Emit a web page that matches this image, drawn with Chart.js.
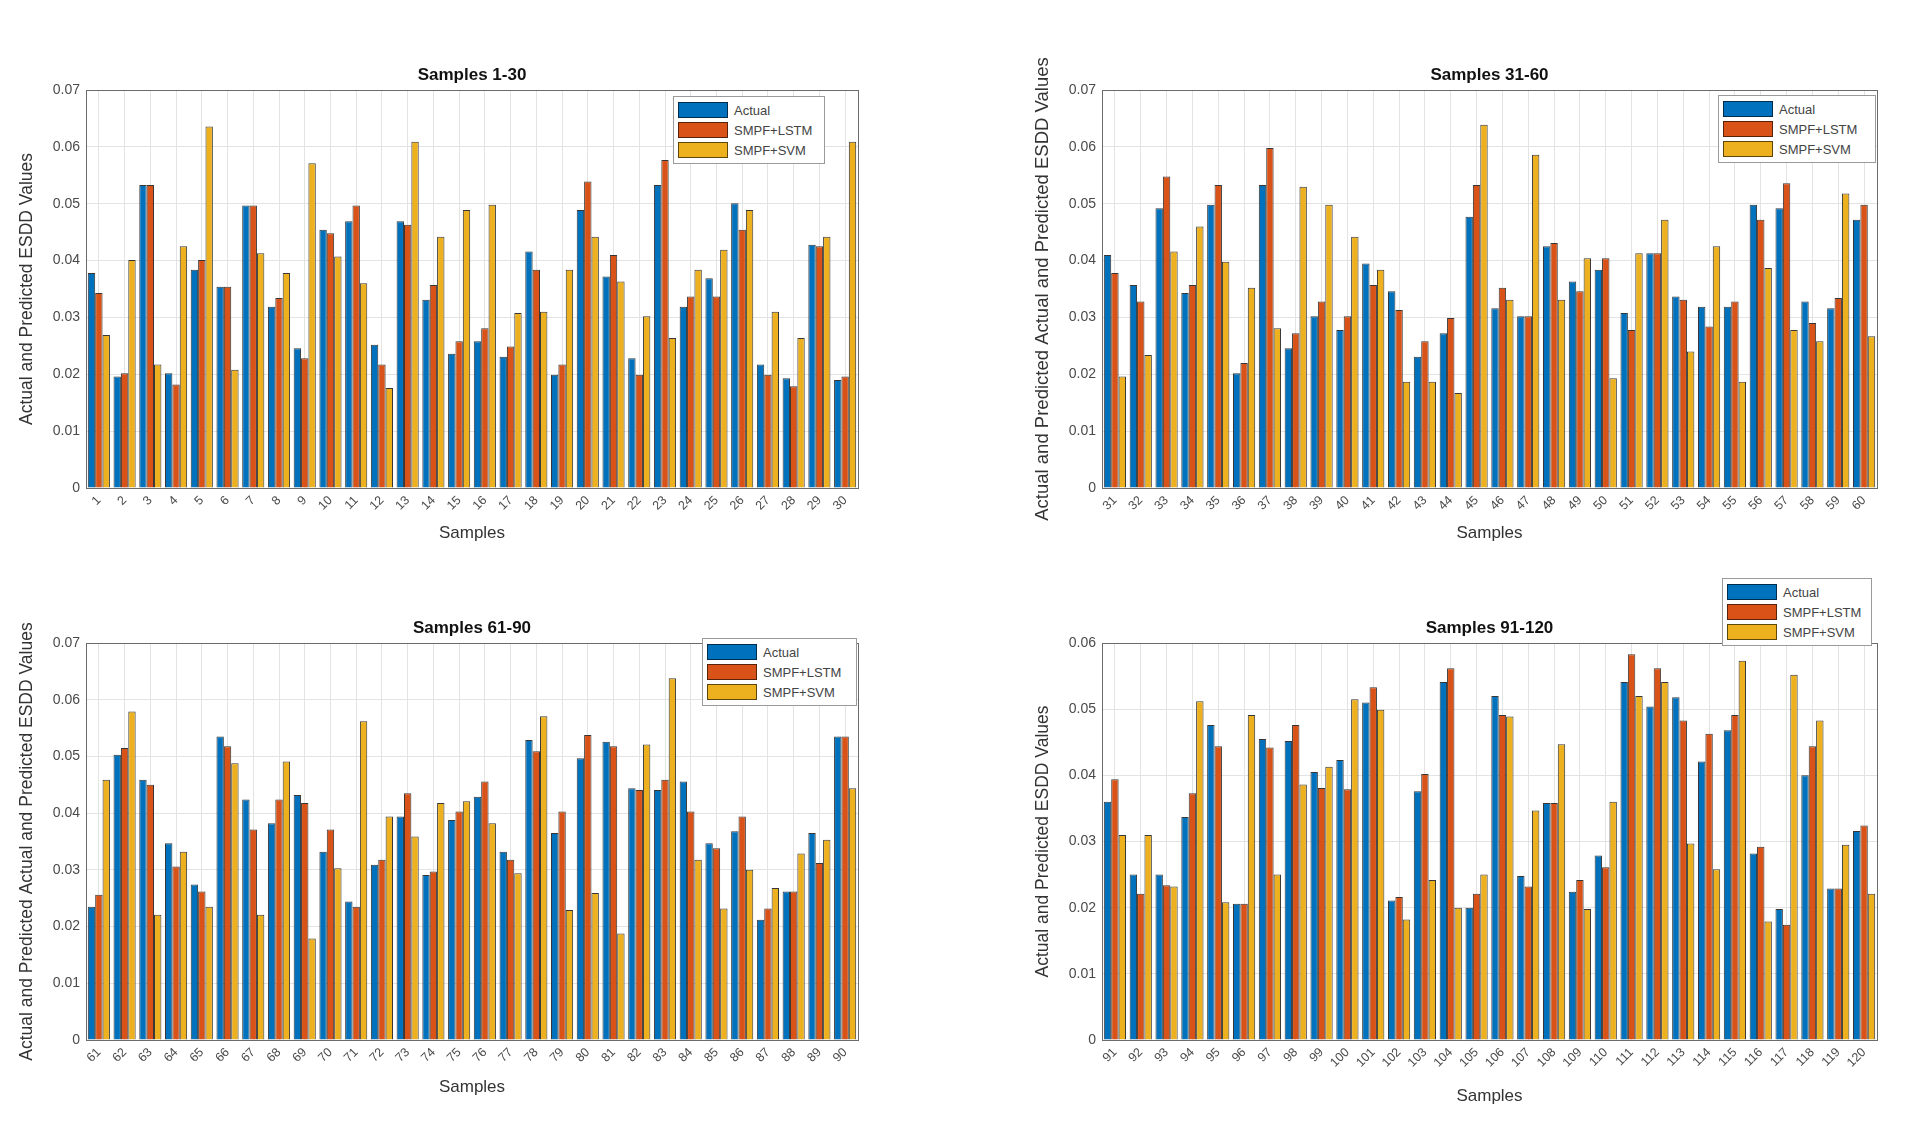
<!DOCTYPE html>
<html>
<head>
<meta charset="utf-8">
<script src="https://cdn.jsdelivr.net/npm/chart.js@4.4.1/dist/chart.umd.min.js"></script>
<style>
  body { margin: 0; background: #fff; font-family: Arial, 'Liberation Sans', sans-serif; }
  #page { position: relative; width: 1910px; height: 1130px; overflow: hidden; }
  canvas { position: absolute; }
  .ttl { position: absolute; font-weight: bold; font-size: 17px; color: #111; text-align: center; }
  .lg { position: absolute; background: #fff; border: 1px solid #9a9a9a; padding: 3px 4px; font-size: 13px; color: #444; }
  .lg div { display: flex; align-items: center; height: 20px; }
  .lg span.sw { display: inline-block; width: 48px; height: 14px; margin-right: 6px; border: 1px solid rgba(0,0,0,.6); }
</style>
</head>
<body>
<div id="page"></div>
<script>
/* series, samples 1..120 */
const actual = [
  0.0378, 0.0196, 0.0533, 0.0202, 0.0384, 0.0354, 0.0497, 0.0319, 0.0246, 0.0454,
  0.0469, 0.0252, 0.0469, 0.0331, 0.0236, 0.0258, 0.0231, 0.0416, 0.0199, 0.0489,
  0.0372, 0.0228, 0.0533, 0.0319, 0.0369, 0.0501, 0.0217, 0.0193, 0.0428, 0.0190,
  0.0410, 0.0357, 0.0492, 0.0343, 0.0498, 0.0202, 0.0533, 0.0246, 0.0302, 0.0278,
  0.0395, 0.0346, 0.0231, 0.0272, 0.0477, 0.0316, 0.0302, 0.0425, 0.0363, 0.0384,
  0.0308, 0.0413, 0.0337, 0.0319, 0.0319, 0.0498, 0.0492, 0.0328, 0.0316, 0.0472,
  0.0235, 0.0503, 0.0459, 0.0347, 0.0274, 0.0535, 0.0424, 0.0382, 0.0432, 0.0332,
  0.0244, 0.0309, 0.0394, 0.0291, 0.0388, 0.0429, 0.0332, 0.0529, 0.0365, 0.0497,
  0.0526, 0.0444, 0.0441, 0.0456, 0.0347, 0.0368, 0.0212, 0.0262, 0.0365, 0.0535,
  0.0360, 0.0250, 0.0250, 0.0337, 0.0476, 0.0206, 0.0455, 0.0452, 0.0405, 0.0423,
  0.0510, 0.0211, 0.0376, 0.0541, 0.0200, 0.0520, 0.0248, 0.0358, 0.0224, 0.0279,
  0.0541, 0.0504, 0.0518, 0.0421, 0.0468, 0.0282, 0.0198, 0.0400, 0.0229, 0.0316,
];
const smpfLstm = [
  0.0343, 0.0202, 0.0533, 0.0182, 0.0401, 0.0354, 0.0497, 0.0334, 0.0228, 0.0448,
  0.0497, 0.0217, 0.0463, 0.0357, 0.0258, 0.0281, 0.0249, 0.0384, 0.0217, 0.0539,
  0.0410, 0.0199, 0.0577, 0.0337, 0.0337, 0.0454, 0.0199, 0.0179, 0.0425, 0.0196,
  0.0378, 0.0328, 0.0548, 0.0357, 0.0533, 0.0220, 0.0598, 0.0272, 0.0328, 0.0302,
  0.0357, 0.0313, 0.0258, 0.0299, 0.0533, 0.0352, 0.0302, 0.0431, 0.0346, 0.0404,
  0.0278, 0.0413, 0.0331, 0.0284, 0.0328, 0.0472, 0.0536, 0.0290, 0.0334, 0.0498,
  0.0256, 0.0515, 0.0450, 0.0306, 0.0262, 0.0518, 0.0371, 0.0424, 0.0418, 0.0371,
  0.0235, 0.0318, 0.0435, 0.0297, 0.0403, 0.0456, 0.0318, 0.0509, 0.0403, 0.0538,
  0.0518, 0.0441, 0.0459, 0.0403, 0.0338, 0.0394, 0.0232, 0.0262, 0.0312, 0.0535,
  0.0394, 0.0221, 0.0234, 0.0373, 0.0444, 0.0206, 0.0442, 0.0476, 0.0381, 0.0379,
  0.0533, 0.0216, 0.0402, 0.0562, 0.0221, 0.0491, 0.0232, 0.0358, 0.0242, 0.0261,
  0.0583, 0.0562, 0.0483, 0.0463, 0.0491, 0.0292, 0.0174, 0.0444, 0.0229, 0.0324,
];
const smpfSvm = [
  0.0269, 0.0401, 0.0217, 0.0425, 0.0636, 0.0208, 0.0413, 0.0378, 0.0571, 0.0407,
  0.0360, 0.0176, 0.0609, 0.0442, 0.0489, 0.0498, 0.0308, 0.0310, 0.0384, 0.0442,
  0.0363, 0.0302, 0.0264, 0.0384, 0.0419, 0.0489, 0.0310, 0.0264, 0.0442, 0.0609,
  0.0196, 0.0234, 0.0416, 0.0460, 0.0398, 0.0352, 0.0281, 0.0530, 0.0498, 0.0442,
  0.0384, 0.0187, 0.0187, 0.0167, 0.0639, 0.0331, 0.0586, 0.0331, 0.0404, 0.0193,
  0.0413, 0.0472, 0.0240, 0.0425, 0.0187, 0.0387, 0.0278, 0.0258, 0.0518, 0.0267,
  0.0459, 0.0579, 0.0221, 0.0332, 0.0235, 0.0488, 0.0221, 0.0491, 0.0179, 0.0303,
  0.0562, 0.0394, 0.0359, 0.0418, 0.0421, 0.0382, 0.0294, 0.0571, 0.0229, 0.0259,
  0.0188, 0.0521, 0.0638, 0.0318, 0.0232, 0.0300, 0.0268, 0.0329, 0.0353, 0.0444,
  0.0310, 0.0310, 0.0232, 0.0512, 0.0208, 0.0491, 0.0250, 0.0386, 0.0413, 0.0515,
  0.0499, 0.0182, 0.0242, 0.0200, 0.0250, 0.0489, 0.0347, 0.0447, 0.0198, 0.0360,
  0.0520, 0.0541, 0.0297, 0.0258, 0.0573, 0.0179, 0.0552, 0.0483, 0.0295, 0.0221,
];

const seriesNames = ['Actual', 'SMPF+LSTM', 'SMPF+SVM'];
const panelTitles = ['Samples 1-30', 'Samples 31-60', 'Samples 61-90', 'Samples 91-120'];
const panelStart = [1, 31, 61, 91];
const panelYMax = [0.07, 0.07, 0.07, 0.06];
const yTitles = [
  'Actual and Predicted ESDD Values',
  'Actual and Predicted Actual and Predicted ESDD Values',
  'Actual and Predicted Actual and Predicted ESDD Values',
  'Actual and Predicted ESDD Values',
];
const yTitleSize = [17.5, 18.5, 17.5, 17.5];

const COLORS = ['#0072BD', '#D95319', '#EDB120'];

/* canvas box + where the plot area should land (page px) */
const PANELS = [
  { left: 0,    top: 40,  w: 880, h: 530, area: [86, 90, 858, 488],   xTitleY: 534,
    legend: { left: 673, top: 96, w: 152 } },
  { left: 1016, top: 40,  w: 880, h: 530, area: [1102, 90, 1877, 488], xTitleY: 534,
    legend: { left: 1718, top: 95, w: 158 } },
  { left: 0,    top: 593, w: 880, h: 530, area: [86, 643, 858, 1040], xTitleY: 1088,
    legend: { left: 702, top: 638, w: 155 } },
  { left: 1016, top: 593, w: 880, h: 530, area: [1102, 643, 1877, 1040], xTitleY: 1097,
    legend: { left: 1722, top: 578, w: 150 } },
];

/* axes box like MATLAB "box on" */
const boxPlugin = {
  id: 'box',
  afterDraw(chart) {
    const { ctx, chartArea: a } = chart;
    ctx.save();
    ctx.strokeStyle = '#6b6b6b';
    ctx.lineWidth = 1;
    ctx.strokeRect(a.left + 0.5, a.top + 0.5, a.right - a.left, a.bottom - a.top);
    ctx.restore();
  },
};

const page = document.getElementById('page');

PANELS.forEach((p, i) => {
  const [ax0, ay0, ax1, ay1] = p.area;
  const cv = document.createElement('canvas');
  cv.width = p.w; cv.height = p.h;
  cv.style.left = p.left + 'px'; cv.style.top = p.top + 'px';
  page.appendChild(cv);

  const yW = ax0 - p.left;
  const padTop = ay0 - p.top;
  const padRight = p.left + p.w - ax1;
  const xH = p.top + p.h - ay1;
  const xTitlePad = p.top + p.h - p.xTitleY - 10;
  const ySize = yTitleSize[i];

  const s = panelStart[i] - 1;
  const labels = Array.from({ length: 30 }, (_, k) => String(s + k + 1));
  const vals = [actual, smpfLstm, smpfSvm].map(a => a.slice(s, s + 30));

  new Chart(cv.getContext('2d'), {
    type: 'bar',
    data: {
      labels,
      datasets: vals.map((d, j) => ({
        label: seriesNames[j],
        data: d,
        backgroundColor: COLORS[j],
        borderColor: 'rgba(20,20,20,0.85)',
        borderWidth: 1,
        borderSkipped: 'bottom',
        barPercentage: 1,
        categoryPercentage: 0.86,
      })),
    },
    options: {
      responsive: false,
      animation: false,
      layout: { padding: { top: padTop, right: padRight, left: 0, bottom: 0 } },
      plugins: { legend: { display: false }, tooltip: { enabled: false } },
      scales: {
        x: {
          grid: { color: '#e3e3e3', offset: false, drawTicks: false },
          border: { display: false },
          ticks: {
            autoSkip: false, minRotation: 45, maxRotation: 45,
            color: '#4a4a4a', font: { size: 12.5 }, padding: 5,
          },
          title: {
            display: true, text: 'Samples', color: '#333',
            font: { size: 17 }, padding: { top: 0, bottom: xTitlePad },
          },
          afterFit: sc => { sc.height = xH; },
        },
        y: {
          min: 0, max: panelYMax[i],
          grid: { color: '#e3e3e3', drawTicks: false },
          border: { display: false },
          ticks: {
            stepSize: 0.01, color: '#4a4a4a', font: { size: 14 }, padding: 6,
            callback: v => String(+v.toFixed(2)),
          },
          title: {
            display: true, text: yTitles[i], color: '#333',
            font: { size: ySize }, padding: { top: 27 - ySize * 0.6, bottom: 0 },
          },
          afterFit: sc => { sc.width = yW; },
        },
      },
    },
    plugins: [boxPlugin],
  });

  /* title */
  const t = document.createElement('div');
  t.className = 'ttl';
  t.textContent = panelTitles[i];
  t.style.left = ax0 + 'px';
  t.style.width = (ax1 - ax0) + 'px';
  t.style.top = (ay0 - 25) + 'px';
  page.appendChild(t);

  /* legend */
  const lg = document.createElement('div');
  lg.className = 'lg';
  lg.style.left = p.legend.left + 'px';
  lg.style.top = p.legend.top + 'px';
  lg.style.width = (p.legend.w - 10) + 'px';
  seriesNames.forEach((n, j) => {
    const row = document.createElement('div');
    row.innerHTML = `<span class="sw" style="background:${COLORS[j]}"></span>${n}`;
    lg.appendChild(row);
  });
  page.appendChild(lg);
});
</script>
</body>
</html>
